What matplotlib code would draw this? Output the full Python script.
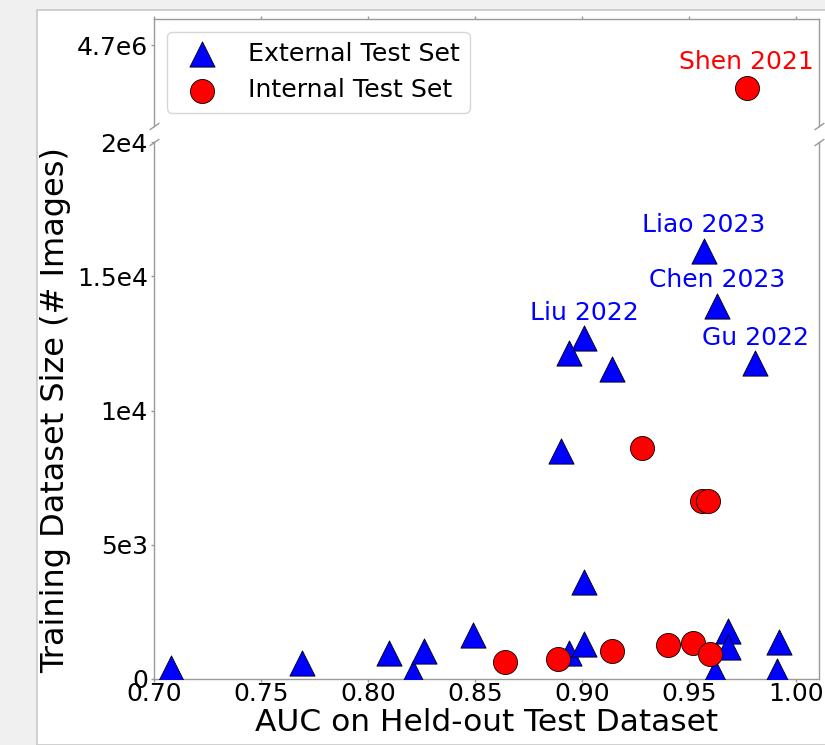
import matplotlib
matplotlib.use("Agg")
import matplotlib.pyplot as plt
from matplotlib.patches import Rectangle

# External test set (triangles)
ext_auc = [0.708, 0.769, 0.810, 0.821, 0.826, 0.849, 0.894, 0.901, 0.962,
           0.968, 0.968, 0.992, 0.991, 0.890, 0.901, 0.957, 0.963, 0.901,
           0.894, 0.914, 0.981]
ext_size = [400, 600, 960, 210, 1050, 1640, 970, 1290, 250,
            1790, 1200, 1380, 280, 8500, 3620, 15940, 13890, 12690,
            12130, 11530, 11760]

# Internal test set (circles)
int_auc = [0.864, 0.889, 0.914, 0.940, 0.952, 0.960, 0.928, 0.956, 0.959, 0.977]
int_size = [630, 760, 1045, 1257, 1330, 930, 8590, 6640, 6640, 4595000]

# Labelled studies
ext_labels = ["Liao 2023", "Chen 2023", "Liu 2022", "Gu 2022"]
ext_label_auc = [0.957, 0.963, 0.901, 0.981]
ext_label_size = [15940, 13890, 12690, 11760]
int_labels = ["Shen 2021"]
int_label_auc = [0.977]
int_label_size = [4595000]

x_ticks = [0.70, 0.75, 0.80, 0.85, 0.90, 0.95, 1.00]
x_tick_labels = ["0.70", "0.75", "0.80", "0.85", "0.90", "0.95", "1.00"]
y_ticks_low = [0, 5000, 10000, 15000, 20000]
y_tick_labels_low = ["0", "5e3", "1e4", "1.5e4", "2e4"]
y_ticks_high = [4700000]
y_tick_labels_high = ["4.7e6"]

spine_col = "#9a9a9a"

fig = plt.figure(figsize=(8.25, 7.45), dpi=100)
fig.patch.set_facecolor("#f0f0f0")
fig.add_artist(Rectangle((37 / 825, 0), 1, 1 - 10 / 745, transform=fig.transFigure,
                         facecolor="white", edgecolor="#c8c8c8", linewidth=1.2, zorder=0))

L = 154 / 825
W = 664.5 / 825
ax1 = fig.add_axes([L, 1 - 126 / 745, W, 107 / 745])
ax2 = fig.add_axes([L, 1 - 679 / 745, W, 537 / 745])

for ax in (ax1, ax2):
    ax.set_facecolor("white")
    for s in ax.spines.values():
        s.set_color(spine_col)
        s.set_linewidth(1.0)
    ax.tick_params(colors=spine_col, labelcolor="black", labelsize=18, width=1.0,
                   length=2.5, pad=2.0)
    ax.scatter(ext_auc, ext_size, marker="^", s=330, c="blue", edgecolors="black",
               linewidths=0.6, label="External Test Set", zorder=3)
    ax.scatter(int_auc, int_size, marker="o", s=300, c="red", edgecolors="black",
               linewidths=0.6, label="Internal Test Set", zorder=3)
    ax.set_xlim(0.70, 1.0105)

ax1.set_ylim(4.5e6, 4.765e6)
ax2.set_ylim(0, 20000)

ax1.spines["bottom"].set_visible(False)
ax2.spines["top"].set_visible(False)
ax1.xaxis.tick_top()
ax1.tick_params(labeltop=False)
ax2.xaxis.tick_bottom()
ax2.tick_params(axis="x", pad=0.0)

ax2.set_xticks(x_ticks)
ax2.set_xticklabels(x_tick_labels)
ax1.set_xticks(x_ticks)
ax2.set_yticks(y_ticks_low)
ax2.set_yticklabels(y_tick_labels_low)
ax1.set_yticks(y_ticks_high)
ax1.set_yticklabels(y_tick_labels_high)

for name, x, y in zip(ext_labels, ext_label_auc, ext_label_size):
    ax2.annotate(name, (x, y), xytext=(0, 18.5), textcoords="offset points",
                 ha="center", va="center", color="blue", fontsize=18)
for name, x, y in zip(int_labels, int_label_auc, int_label_size):
    ax1.annotate(name, (x, y), xytext=(0, 18.5), textcoords="offset points",
                 ha="center", va="center", color="red", fontsize=18)

ax2.set_xlabel("AUC on Held-out Test Dataset", fontsize=22.5, labelpad=1)
ax2.set_ylabel("Training Dataset Size (# Images)", fontsize=23, labelpad=4)

d = 0.7
kw = dict(marker=[(-1, -d), (1, d)], markersize=7, linestyle="none",
          color=spine_col, mec=spine_col, mew=1, clip_on=False)
ax1.plot([0, 1], [0, 0], transform=ax1.transAxes, **kw)
ax2.plot([0, 1], [1, 1], transform=ax2.transAxes, **kw)

ax1.legend(loc="upper left", fontsize=18.2, scatterpoints=1, borderaxespad=0.5)

fig.savefig("out.png", dpi=100, facecolor=fig.get_facecolor())
